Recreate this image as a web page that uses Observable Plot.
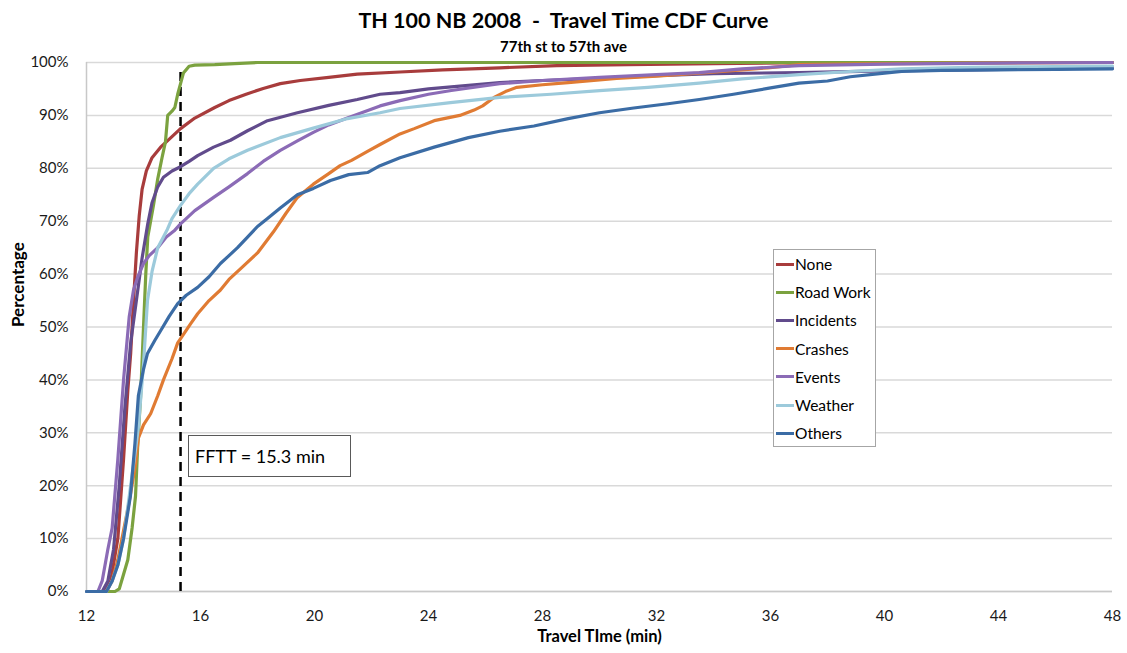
<!DOCTYPE html>
<html>
<head>
<meta charset="utf-8">
<script src="https://cdn.jsdelivr.net/npm/d3@7"></script>
<script src="https://cdn.jsdelivr.net/npm/@observablehq/plot@0.6"></script>
<style>
  html, body { margin: 0; padding: 0; background: #fff; }
  body { font-family: Lato, "Open Sans", "DejaVu Sans", sans-serif; }
  #wrap { position: relative; width: 1127px; height: 653px; overflow: hidden; background: #fff; }
  #title { position: absolute; z-index: 2; left: 0; width: 1127px; top: 7px; text-align: center; font-weight: bold; font-size: 21.5px; color: #000; white-space: pre; }
  #subtitle { position: absolute; z-index: 2; left: 0; width: 1127px; top: 37px; text-align: center; font-weight: bold; font-size: 15px; line-height: 18px; color: #000; }
  #chart { position: absolute; z-index: 1; left: 0; top: 50px; }
  #legend { position: absolute; z-index: 3; left: 773px; top: 249px; width: 103px; height: 198px; border: 1px solid #a6a6a6; background: #fff; box-sizing: border-box; }
  .li { position: absolute; left: 2px; height: 20px; display: flex; align-items: center; font-size: 15.5px; color: #000; }
  .li span.sw { display: inline-block; width: 18px; height: 3px; margin-right: 1px; }
  #fftt { position: absolute; z-index: 3; left: 188px; top: 435px; width: 163px; height: 42px; border: 1px solid #595959; box-sizing: border-box; background: #fff; font-size: 18px; line-height: 40px; padding-left: 6px; color: #000; }
</style>
</head>
<body>
<div id="wrap">
  <div id="chart"></div>
  <div id="title"></div>
  <div id="subtitle"></div>
  <div id="legend"></div>
  <div id="fftt"></div>
</div>
<script>
// ---------- Data ----------
const titleText = "TH 100 NB 2008  -  Travel Time CDF Curve";
const subtitleText = "77th st to 57th ave";
const xLabel = "Travel TIme (min)";
const yLabel = "Percentage";
const xTicks = [12, 16, 20, 24, 28, 32, 36, 40, 44, 48];
const yTicks = [0, 10, 20, 30, 40, 50, 60, 70, 80, 90, 100];
const fftt = 15.3;
const ffttLabel = "FFTT = 15.3 min";

const seriesNames = ["None", "Road Work", "Incidents", "Crashes", "Events", "Weather", "Others"];
const seriesColors = ["#a83c3c", "#7ba23f", "#614b8c", "#e07b33", "#8b6bb6", "#9ccadb", "#3b6ca5"];

// [travel time (min), cumulative percent]
const noneData = [[12,0],[12.6,0],[12.85,2],[13.1,10],[13.3,25],[13.45,38],[13.55,45],[13.65,55],[13.75,64],[13.85,71],[13.95,76],[14.1,79.5],[14.3,82],[14.6,84],[15.0,86],[15.3,87.5],[15.8,89.5],[16.5,91.5],[17.0,92.8],[17.6,94],[18.2,95.1],[18.8,96],[19.5,96.6],[20.5,97.2],[21.5,97.8],[23,98.2],[24.5,98.6],[26.5,99],[28.5,99.4],[31,99.6],[34,99.8],[38,100],[48,100]];
const roadWorkData = [[12,0],[13.0,0],[13.15,0.5],[13.26,2.5],[13.45,6],[13.6,12],[13.72,18],[13.8,28],[13.9,37],[14.0,50],[14.08,60],[14.15,67],[14.35,73],[14.5,78],[14.65,82],[14.77,85],[14.85,90],[15.0,90.8],[15.1,91.5],[15.2,94],[15.3,96],[15.4,98],[15.6,99.3],[15.8,99.5],[16.5,99.6],[17.2,99.8],[18,100],[48,100]];
const incidentsData = [[12,0],[12.55,0],[12.75,2],[12.95,8],[13.15,20],[13.35,35],[13.55,47],[13.75,55],[13.95,63],[14.15,69.5],[14.3,73.5],[14.5,76.5],[14.7,78.3],[15.0,79.5],[15.3,80.3],[15.6,81.3],[15.9,82.4],[16.46,84],[17.05,85.3],[17.65,87.1],[18.35,89],[19.4,90.5],[20.5,91.9],[21.5,93],[22.3,94],[23,94.3],[24,95],[25,95.5],[26.5,96.2],[28,96.6],[30,97],[32,97.5],[34,97.9],[37,98.1],[40,98.4],[43,98.6],[48,99]];
const crashesData = [[12,0],[12.7,0],[12.9,2],[13.1,6],[13.3,11.5],[13.5,17],[13.72,24],[13.82,29],[14.0,31.5],[14.25,33.6],[14.5,37],[14.7,40],[15.0,44],[15.2,47],[15.45,49],[15.65,50.6],[15.9,52.5],[16.3,55],[16.7,57],[17.0,59],[17.4,61],[18.0,64],[18.56,68],[19.0,71.5],[19.4,74.5],[19.96,77],[20.5,79],[20.9,80.5],[21.3,81.5],[21.86,83.2],[22.3,84.5],[23,86.5],[23.5,87.5],[24.2,89],[25.1,90],[25.6,91],[25.9,91.8],[26.3,93.4],[26.7,94.5],[27.1,95.3],[28,95.8],[28.9,96.2],[30.6,97],[32,97.4],[33.5,98],[35,98.6],[35.9,99],[37,99.6],[40,99.8],[48,100]];
const eventsData = [[12,0],[12.4,0],[12.55,2],[12.75,8],[12.9,12],[13.1,25],[13.3,40],[13.5,52],[13.65,57],[13.8,59.5],[14.0,62],[14.2,63.5],[14.5,65],[14.8,67],[15.1,68.3],[15.3,69.5],[15.8,72],[16.46,74.5],[17.0,76.5],[17.65,79],[18.2,81.3],[18.8,83.4],[19.4,85.2],[19.96,86.8],[20.5,88.2],[21.2,89.6],[22.3,91.8],[23,92.8],[24,94],[24.8,94.7],[26.5,96],[28,96.6],[30,97.2],[32,97.7],[33.5,98.1],[35,98.8],[37,99.4],[40,99.7],[44,99.9],[48,100]];
const weatherData = [[12,0],[12.7,0],[12.9,2],[13.1,5],[13.3,10],[13.5,18],[13.7,26],[13.82,31],[14.0,43],[14.14,55],[14.3,60.5],[14.5,65],[14.84,68.5],[15.0,70.5],[15.3,73],[15.6,75.2],[15.9,77],[16.46,80],[17,81.8],[17.65,83.4],[18.8,85.8],[19.96,87.6],[21.16,89.4],[22.3,90.5],[23,91.3],[24.77,92.4],[26.5,93.4],[28.3,94],[30,94.7],[31.7,95.3],[33.5,96.1],[35,96.9],[37,97.7],[38.8,98.3],[40.6,98.8],[43,99.1],[45,99.2],[48,99.3]];
const othersData = [[12,0],[12.7,0],[12.9,2],[13.1,5],[13.3,10],[13.54,18],[13.7,28],[13.82,37],[14.0,42],[14.14,45],[14.4,47.5],[14.6,49.3],[14.9,52],[15.2,54.4],[15.5,56],[15.9,57.5],[16.3,59.5],[16.7,62],[17.0,63.5],[17.3,65],[17.65,67],[18.0,69],[18.35,70.5],[18.8,72.5],[19.4,75],[19.96,76.2],[20.56,77.7],[21.2,78.8],[21.86,79.2],[22.3,80.5],[23,82],[24.2,84],[25.4,85.8],[26.5,87],[27.7,88],[28.9,89.4],[30,90.5],[31.2,91.4],[32.4,92.2],[33.5,93],[34.7,94],[35.9,95.1],[37,96.1],[38,96.5],[38.8,97.3],[40,98],[40.6,98.3],[42,98.5],[44,98.6],[46,98.7],[48,98.8]];

const seriesData = [noneData, roadWorkData, incidentsData, crashesData, eventsData, weatherData, othersData];

// ---------- Build table ----------
const rows = [];
seriesNames.forEach((name, i) => {
  seriesData[i].forEach(([t, p]) => rows.push({series: name, t, p}));
});

document.getElementById("title").textContent = titleText;
document.getElementById("subtitle").textContent = subtitleText;
document.getElementById("fftt").textContent = ffttLabel;

const FONT = 'Lato, "Open Sans", "DejaVu Sans", sans-serif';

const chart = Plot.plot({
  width: 1127,
  height: 603,
  marginLeft: 86,
  marginRight: 15,
  marginTop: 12,
  marginBottom: 62,
  style: {fontFamily: FONT, fontSize: "15px", color: "#1a1a1a", background: "transparent"},
  x: {domain: [12, 48]},
  y: {domain: [0, 100]},
  color: {domain: seriesNames, range: seriesColors},
  marks: [
    Plot.gridY(yTicks, {stroke: "#d9d9d9", strokeOpacity: 1, strokeWidth: 1.5}),
    Plot.ruleX([12], {stroke: "#c8c8c8", strokeWidth: 1.5}),
    Plot.ruleY([0], {stroke: "#c8c8c8", strokeWidth: 1.5}),
    Plot.axisX(xTicks, {tickSize: 0, tickPadding: 19, label: null, fontSize: 15}),
    Plot.axisY(yTicks, {tickSize: 0, tickPadding: 18, label: null, tickFormat: d => d + "%", fontSize: 15}),
    Plot.ruleX([fftt], {y1: 0, y2: 99, stroke: "#000", strokeWidth: 2.5, strokeDasharray: "9,6"}),
    Plot.line(rows, {x: "t", y: "p", z: "series", stroke: "series", strokeWidth: 3.2, strokeLinejoin: "round", strokeLinecap: "round"}),
    Plot.text([xLabel], {text: d => d, frameAnchor: "bottom", dy: 50, fontWeight: "bold", fontSize: 16.5, fill: "#000"}),
    Plot.text([yLabel], {text: d => d, frameAnchor: "left", dx: -68, rotate: -90, fontWeight: "bold", fontSize: 17, fill: "#000"})
  ]
});
document.getElementById("chart").appendChild(chart);

// ---------- Legend ----------
const legend = document.getElementById("legend");
seriesNames.forEach((name, i) => {
  const d = document.createElement("div");
  d.className = "li";
  d.style.top = (4 + i * 28.2) + "px";
  const sw = document.createElement("span");
  sw.className = "sw";
  sw.style.background = seriesColors[i];
  d.appendChild(sw);
  d.appendChild(document.createTextNode(name));
  legend.appendChild(d);
});
</script>
</body>
</html>
